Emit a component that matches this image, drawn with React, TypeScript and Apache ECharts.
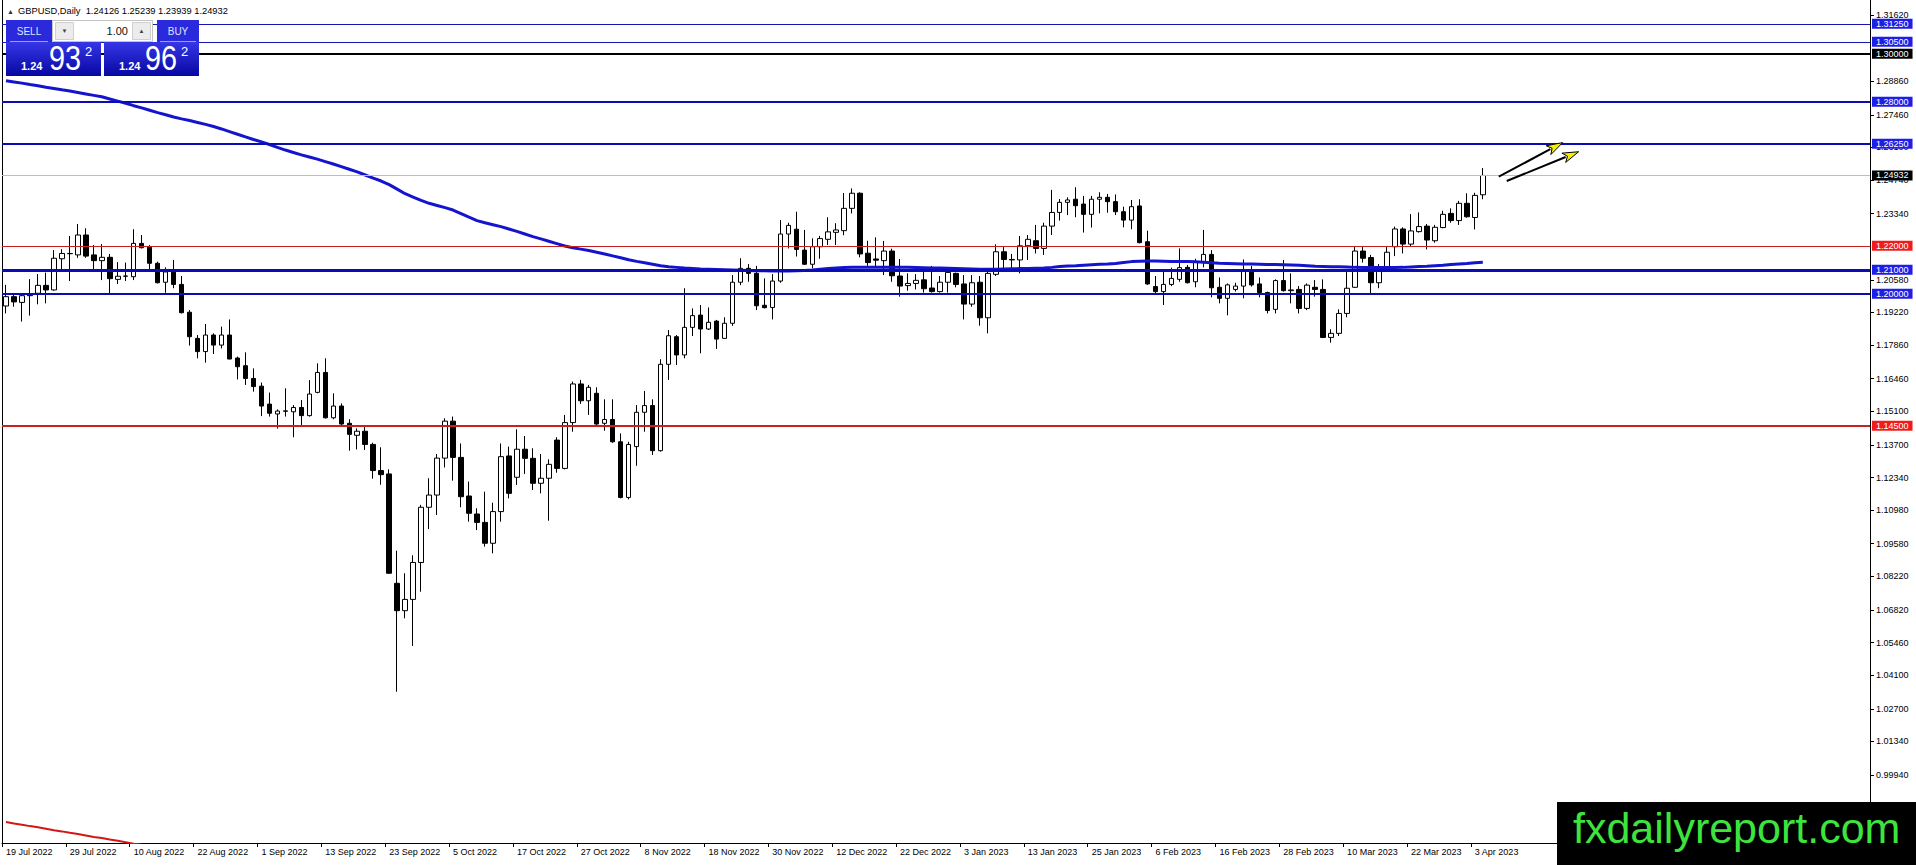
import React, { useEffect, useRef } from "react";
import * as echarts from "echarts";

const SYMBOL_TITLE = "GBPUSD,Daily";
const FIRST_DAY = "2022-07-19";
const FUTURE_SLOTS = 48;
const LABEL_EVERY = 8;

const OPEN = [
  1.1949, 1.1988, 1.1964, 1.1992, 1.2002, 1.2035, 1.2016, 1.2146, 1.2168, 1.2162,
  1.2245, 1.2162, 1.2138, 1.2152, 1.206, 1.2073, 1.2071, 1.221, 1.2196, 1.2127,
  1.2048, 1.2091, 1.2039, 1.1923, 1.1814, 1.1759, 1.1828, 1.1786, 1.1828, 1.1732,
  1.17, 1.1647, 1.1615, 1.154, 1.1499, 1.151, 1.1508, 1.1526, 1.1492, 1.1589,
  1.1672, 1.1483, 1.1532, 1.146, 1.141, 1.1427, 1.1372, 1.1263, 1.1249, 1.0793,
  1.0679, 1.0726, 1.088, 1.111, 1.1161, 1.1315, 1.1469, 1.1318, 1.1157, 1.1082,
  1.1047, 1.096, 1.1092, 1.1324, 1.1235, 1.1352, 1.1314, 1.121, 1.1231, 1.139,
  1.1272, 1.1463, 1.1624, 1.1554, 1.1585, 1.146, 1.1476, 1.1383, 1.1151, 1.1363,
  1.1506, 1.1534, 1.1346, 1.1706, 1.1821, 1.1745, 1.186, 1.1911, 1.1853, 1.1886,
  1.1814, 1.1877, 1.2048, 1.2106, 1.2085, 1.1952, 1.1943, 1.2053, 1.2249, 1.2269,
  1.2182, 1.2123, 1.2196, 1.2227, 1.2256, 1.2263, 1.2356, 1.2419, 1.2169, 1.2145,
  1.2138, 1.2178, 1.2074, 1.2034, 1.2043, 1.2058, 1.2024, 1.2009, 1.2048, 1.2085,
  1.2041, 1.1957, 1.2048, 1.19, 1.2081, 1.2175, 1.2143, 1.2141, 1.22, 1.2221,
  1.2189, 1.2282, 1.2339, 1.2381, 1.2394, 1.2374, 1.2331, 1.2394, 1.2402, 1.2384,
  1.2342, 1.2307, 1.2366, 1.2217, 1.203, 1.2009, 1.2039, 1.206, 1.211, 1.205,
  1.2131, 1.2164, 1.2027, 1.1981, 1.2018, 1.2032, 1.2096, 1.2041, 1.2005, 1.1935,
  1.2055, 1.2013, 1.2018, 1.1939, 1.2027, 1.2018, 1.1818, 1.1835, 1.1918, 1.2027,
  1.2178, 1.2151, 1.2046, 1.2099, 1.2196, 1.227, 1.2207, 1.2259, 1.2282, 1.2221,
  1.2276, 1.2335, 1.2305, 1.2377, 1.2318, 1.24126,
];

const HIGH = [
  1.2037, 1.1997, 1.1995, 1.2061, 1.2082, 1.2088, 1.2182, 1.2186, 1.2241, 1.2291,
  1.2273, 1.2203, 1.2207, 1.2166, 1.2132, 1.213, 1.2269, 1.2245, 1.2203, 1.2134,
  1.211, 1.2141, 1.2074, 1.1932, 1.1828, 1.1874, 1.1835, 1.1863, 1.1893, 1.1738,
  1.1756, 1.1689, 1.163, 1.1588, 1.1518, 1.1606, 1.1536, 1.1557, 1.164, 1.171,
  1.1731, 1.1585, 1.1543, 1.1477, 1.1439, 1.1453, 1.1379, 1.136, 1.1268, 1.0929,
  1.0835, 1.091, 1.112, 1.1231, 1.1332, 1.1481, 1.1488, 1.1376, 1.1217, 1.1106,
  1.1175, 1.1129, 1.1376, 1.1363, 1.1435, 1.1407, 1.1356, 1.1332, 1.131, 1.1402,
  1.1495, 1.1634, 1.1641, 1.162, 1.161, 1.156, 1.156, 1.1418, 1.1383, 1.1536,
  1.1595, 1.156, 1.1727, 1.1849, 1.1828, 1.2023, 1.1939, 1.1953, 1.1943, 1.1891,
  1.1902, 1.2078, 1.2148, 1.2124, 1.2116, 1.2064, 1.2082, 1.2307, 1.2296, 1.2342,
  1.2266, 1.2231, 1.2241, 1.2319, 1.2294, 1.242, 1.2439, 1.2423, 1.2221, 1.2235,
  1.222, 1.2188, 1.2145, 1.2085, 1.2082, 1.2096, 1.2116, 1.2074, 1.2095, 1.2088,
  1.2078, 1.2078, 1.2074, 1.2092, 1.2206, 1.2196, 1.2166, 1.2241, 1.2245, 1.2287,
  1.2296, 1.2433, 1.2395, 1.2402, 1.2444, 1.2408, 1.2408, 1.2423, 1.2416, 1.2414,
  1.2363, 1.2391, 1.2394, 1.2263, 1.2074, 1.2092, 1.2109, 1.2189, 1.212, 1.2146,
  1.2266, 1.2182, 1.2068, 1.2043, 1.2046, 1.2143, 1.2116, 1.2068, 1.2009, 1.206,
  1.2141, 1.2085, 1.2032, 1.2043, 1.2057, 1.206, 1.1852, 1.1935, 1.2102, 1.2196,
  1.2196, 1.2162, 1.2124, 1.2199, 1.228, 1.2277, 1.2332, 1.2339, 1.2291, 1.2287,
  1.2346, 1.2356, 1.2387, 1.2419, 1.2421, 1.25239,
];

const LOW = [
  1.1918, 1.1946, 1.1884, 1.1909, 1.1956, 1.196, 1.2013, 1.2102, 1.2053, 1.215,
  1.215, 1.2092, 1.2057, 1.2002, 1.2041, 1.2053, 1.2057, 1.2189, 1.2092, 1.2043,
  1.2004, 1.2023, 1.1918, 1.1784, 1.1731, 1.1713, 1.1749, 1.1772, 1.1727, 1.1643,
  1.162, 1.1592, 1.149, 1.1488, 1.1438, 1.1488, 1.1402, 1.1449, 1.1488, 1.1585,
  1.148, 1.1477, 1.1453, 1.1346, 1.1351, 1.1349, 1.1229, 1.1204, 1.0832, 1.0341,
  1.0647, 1.0532, 1.0758, 1.1019, 1.1078, 1.1276, 1.1221, 1.111, 1.105, 1.1015,
  1.0946, 1.0918, 1.105, 1.1147, 1.1203, 1.1249, 1.1182, 1.1168, 1.1054, 1.1254,
  1.1268, 1.1425, 1.1541, 1.1495, 1.1453, 1.1429, 1.1379, 1.1147, 1.1143, 1.1283,
  1.1425, 1.1328, 1.1342, 1.1641, 1.1703, 1.1731, 1.1824, 1.1752, 1.1849, 1.177,
  1.1812, 1.1866, 1.2036, 1.205, 1.1932, 1.1939, 1.1893, 1.2046, 1.2189, 1.2155,
  1.212, 1.2106, 1.2146, 1.2203, 1.2203, 1.2244, 1.2335, 1.2152, 1.2116, 1.2113,
  1.2078, 1.205, 1.1988, 1.2013, 1.2018, 1.2005, 1.2005, 1.2005, 1.2005, 1.2027,
  1.1893, 1.1946, 1.1867, 1.1835, 1.2074, 1.2106, 1.2092, 1.2085, 1.2141, 1.2168,
  1.2162, 1.2245, 1.2305, 1.2328, 1.2319, 1.2255, 1.2276, 1.2335, 1.2338, 1.2328,
  1.2277, 1.2269, 1.221, 1.2037, 1.2002, 1.1953, 1.2032, 1.205, 1.2043, 1.2027,
  1.211, 1.1985, 1.196, 1.191, 1.2009, 1.1981, 1.203, 1.1985, 1.1918, 1.1918,
  1.2009, 1.196, 1.1918, 1.1932, 1.1988, 1.1815, 1.1796, 1.1824, 1.1902, 1.2024,
  1.213, 1.2002, 1.2023, 1.2096, 1.2157, 1.2168, 1.2199, 1.2255, 1.2185, 1.2213,
  1.2273, 1.2296, 1.2287, 1.2317, 1.2268, 1.23939,
];

const CLOSE = [
  1.1988, 1.1966, 1.1992, 1.1995, 1.2035, 1.2016, 1.2148, 1.2168, 1.2167, 1.2245,
  1.2157, 1.2138, 1.2152, 1.2063, 1.2073, 1.2074, 1.221, 1.2192, 1.2127, 1.2046,
  1.2091, 1.2039, 1.1921, 1.1821, 1.1759, 1.1828, 1.1786, 1.1828, 1.1728, 1.1696,
  1.1647, 1.1613, 1.1532, 1.1502, 1.1511, 1.1512, 1.1526, 1.1492, 1.1582, 1.1672,
  1.1483, 1.1532, 1.1457, 1.1414, 1.1427, 1.1372, 1.1263, 1.1246, 1.0835, 1.0679,
  1.0726, 1.088, 1.111, 1.1161, 1.1315, 1.1469, 1.1318, 1.1154, 1.1085, 1.1047,
  1.096, 1.1092, 1.1321, 1.1168, 1.1352, 1.1314, 1.121, 1.1231, 1.1289, 1.1272,
  1.1463, 1.1624, 1.1554, 1.161, 1.1457, 1.1476, 1.1383, 1.1151, 1.1372, 1.1506,
  1.1534, 1.1346, 1.1706, 1.1825, 1.1745, 1.186, 1.1909, 1.1853, 1.1881, 1.1811,
  1.1877, 1.2048, 1.2106, 1.2085, 1.195, 1.1942, 1.2053, 1.2249, 1.2285, 1.2185,
  1.2123, 1.2196, 1.223, 1.2258, 1.2266, 1.2356, 1.2419, 1.2166, 1.213, 1.214,
  1.2178, 1.2075, 1.2032, 1.2043, 1.2056, 1.2021, 1.2009, 1.2048, 1.2089, 1.2039,
  1.1957, 1.2046, 1.19, 1.2085, 1.2175, 1.2143, 1.2141, 1.22, 1.2227, 1.2189,
  1.2282, 1.2339, 1.2381, 1.2391, 1.2367, 1.2331, 1.2394, 1.2402, 1.2384, 1.2342,
  1.2307, 1.2363, 1.2213, 1.2041, 1.2009, 1.2039, 1.2064, 1.2109, 1.2046, 1.2131,
  1.2164, 1.2025, 1.1981, 1.2037, 1.2032, 1.2099, 1.2037, 1.2005, 1.193, 1.2055,
  1.2013, 1.2016, 1.1939, 1.2036, 1.2018, 1.1818, 1.1835, 1.1918, 1.2023, 1.2178,
  1.2148, 1.2046, 1.2099, 1.2173, 1.227, 1.2207, 1.2262, 1.228, 1.2224, 1.2277,
  1.2331, 1.2305, 1.2377, 1.2321, 1.241, 1.24932,
];

// 200-day moving average (blue), one value per bar
const MA_BLUE = [
  1.2888, 1.2883, 1.2878, 1.2872, 1.2867, 1.2861, 1.2856, 1.285, 1.2845, 1.2839,
  1.2833, 1.2827, 1.2821, 1.2812, 1.2803, 1.2794, 1.2784, 1.2775, 1.2765, 1.2755,
  1.2746, 1.2737, 1.2729, 1.2722, 1.2714, 1.2706, 1.2697, 1.2687, 1.2676, 1.2665,
  1.2654, 1.2643, 1.2633, 1.2622, 1.261, 1.2599, 1.2589, 1.2579, 1.257, 1.2561,
  1.2551, 1.2541, 1.253, 1.2519, 1.2508, 1.2495, 1.2482, 1.247, 1.2455, 1.2436,
  1.2417, 1.2403, 1.2389, 1.2377, 1.2368, 1.2359, 1.2349, 1.2334, 1.2319, 1.2305,
  1.2296, 1.2288, 1.228, 1.227, 1.226, 1.2249, 1.2238, 1.2229, 1.2219, 1.2209,
  1.2199, 1.2192, 1.2186, 1.218, 1.2173, 1.2166, 1.2158, 1.215, 1.2142, 1.2135,
  1.2129, 1.2123, 1.2117, 1.2113, 1.211, 1.2107, 1.2105, 1.2103, 1.2102, 1.2101,
  1.21, 1.2099, 1.2098, 1.2097, 1.2096, 1.2096, 1.2095, 1.2095, 1.2095, 1.2096,
  1.2097, 1.2099, 1.2102, 1.2105, 1.2107, 1.2109, 1.211, 1.211, 1.2111, 1.2111,
  1.2111, 1.211, 1.211, 1.211, 1.2109, 1.2108, 1.2107, 1.2107, 1.2106, 1.2105,
  1.2104, 1.2103, 1.2102, 1.2102, 1.2102, 1.2103, 1.2104, 1.2105, 1.2105, 1.2106,
  1.2107, 1.211, 1.2114, 1.2116, 1.2117, 1.2119, 1.2121, 1.2123, 1.2124, 1.2126,
  1.213, 1.2134, 1.2136, 1.2137, 1.2137, 1.2136, 1.2135, 1.2134, 1.2134, 1.2133,
  1.2131, 1.2129, 1.2127, 1.2126, 1.2125, 1.2124, 1.2124, 1.2123, 1.2122, 1.2122,
  1.2121, 1.212, 1.2119, 1.2117, 1.2115, 1.2114, 1.2113, 1.2113, 1.2112, 1.211,
  1.2109, 1.2109, 1.2109, 1.2109, 1.2109, 1.211, 1.2112, 1.2114, 1.2115, 1.2117,
  1.2119, 1.2122, 1.2124, 1.2126, 1.2129, 1.2131,
];

// red line at the lower left, leaving the chart through its bottom
const MA_RED = [
  0.9798, 0.9792, 0.9787, 0.9781, 0.9776, 0.977, 0.9764, 0.9759, 0.9753, 0.9748,
  0.9742, 0.9736, 0.9731, 0.9725, 0.972, 0.9714, 0.9708, 0.9703, 0.9697,
];

const PRICE_TICKS = [
  1.3162, 1.2886, 1.2746, 1.261, 1.2474, 1.2334, 1.2058, 1.1922, 1.1786, 1.1646,
  1.151, 1.137, 1.1234, 1.1098, 1.0958, 1.0822, 1.0682, 1.0546, 1.041, 1.027,
  1.0134, 0.9994,
];
const Y_MIN = 0.97106;
const Y_MAX = 1.32245;

const LEVEL_VALUES = [1.3125, 1.305, 1.3, 1.28, 1.2625, 1.22, 1.21, 1.2, 1.145];
const LEVEL_KINDS = ["blueThin", "blueThin", "black", "blue", "blue", "redThin", "blueThick", "blue", "red"];

// two drawn arrows, in data coordinates [bar position, price]
const ARROW_TAILS = [
  [186.77, 1.2488],
  [187.52, 1.247],
];
const ARROW_TIPS = [
  [194.66, 1.263],
  [196.54, 1.2592],
];

const WATERMARK = "fxdailyreport.com";

const FONT = '"Liberation Sans", Arial, "DejaVu Sans", sans-serif';

const KIND_STYLE: any = {
  blueThin: { line: "#1616b0", width: 1, tag: "#1e1ee6" },
  blue: { line: "#0c0cb4", width: 2, tag: "#1e1ee6" },
  blueThick: { line: "#0c0cb4", width: 3, tag: "#1e1ee6" },
  black: { line: "#000000", width: 2, tag: "#000000" },
  redThin: { line: "#c82020", width: 1, tag: "#f01c1c" },
  red: { line: "#c82020", width: 2, tag: "#f01c1c" },
  last: { line: "#bdbdbd", width: 1, tag: "#000000" },
};

const MONTHS = ["Jan", "Feb", "Mar", "Apr", "May", "Jun", "Jul", "Aug", "Sep", "Oct", "Nov", "Dec"];

function tradingDays(start: string, n: number): string[] {
  const out: string[] = [];
  const d = new Date(start + "T00:00:00Z");
  while (out.length < n) {
    const wd = d.getUTCDay();
    if (wd !== 0 && wd !== 6) {
      out.push(`${d.getUTCDate()} ${MONTHS[d.getUTCMonth()]} ${d.getUTCFullYear()}`);
    }
    d.setUTCDate(d.getUTCDate() + 1);
  }
  return out;
}

function buildPanel(): any[] {
  const grad = () =>
    new echarts.graphic.LinearGradient(0, 0, 0, 1, [
      { offset: 0, color: "#3636e6" },
      { offset: 1, color: "#0707a2" },
    ]);
  const t = (text: string, x: number, y: number, extra: any = {}, el: any = {}) => ({
    type: "text",
    x,
    y,
    z: 102,
    ...el,
    style: { text, x: 0, y: 0, fill: "#ffffff", fontFamily: FONT, verticalAlign: "middle", ...extra },
  });
  const last = CLOSE.length - 1;
  const title = `${SYMBOL_TITLE}\u00a0 ${OPEN[last].toFixed(5)} ${HIGH[last].toFixed(5)} ${LOW[last].toFixed(5)} ${CLOSE[last].toFixed(5)}`;
  return [
    t("\u25B2", 7, 11, { fill: "#333333", fontSize: 7 }),
    t(title, 18, 11, { fill: "#000000", fontSize: 9.3 }),
    { type: "rect", z: 100, shape: { x: 6, y: 20, width: 46, height: 22 }, style: { fill: "#2a2adc" } },
    { type: "rect", z: 100, shape: { x: 157, y: 20, width: 42, height: 22 }, style: { fill: "#2a2adc" } },
    { type: "rect", z: 100, shape: { x: 6, y: 42, width: 95, height: 34 }, style: { fill: grad() } },
    { type: "rect", z: 100, shape: { x: 104, y: 42, width: 95, height: 34 }, style: { fill: grad() } },
    { type: "line", z: 101, shape: { x1: 10, y1: 41.5, x2: 48, y2: 41.5 }, style: { stroke: "#9c9cf4", lineWidth: 1 } },
    { type: "line", z: 101, shape: { x1: 160, y1: 41.5, x2: 196, y2: 41.5 }, style: { stroke: "#9c9cf4", lineWidth: 1 } },
    t("SELL", 29, 31, { fill: "#dfe3ff", fontSize: 10, align: "center" }),
    t("BUY", 178, 31, { fill: "#dfe3ff", fontSize: 10, align: "center" }),
    { type: "rect", z: 100, shape: { x: 52.5, y: 20.5, width: 100, height: 21 }, style: { fill: "#ffffff", stroke: "#c4c4c4", lineWidth: 1 } },
    { type: "rect", z: 101, shape: { x: 55.5, y: 22.5, width: 18, height: 17 }, style: { fill: "#ececec", stroke: "#d0d0d0", lineWidth: 1 } },
    { type: "rect", z: 101, shape: { x: 132.5, y: 22.5, width: 18, height: 17 }, style: { fill: "#ececec", stroke: "#d0d0d0", lineWidth: 1 } },
    t("\u25BC", 64.5, 31, { fill: "#404040", fontSize: 6, align: "center" }),
    t("\u25B2", 141.5, 31, { fill: "#404040", fontSize: 6, align: "center" }),
    t("1.00", 128, 31, { fill: "#111111", fontSize: 11, align: "right" }),
    t("1.24", 21, 66, { fontSize: 11, fontWeight: "bold" }),
    t("93", 49, 57.5, { fontSize: 36 }, { scaleX: 0.8 }),
    t("2", 85, 51.5, { fontSize: 13 }),
    t("1.24", 119, 66, { fontSize: 11, fontWeight: "bold" }),
    t("96", 145, 57.5, { fontSize: 36 }, { scaleX: 0.8 }),
    t("2", 181, 51.5, { fontSize: 13 }),
    { type: "rect", z: 100, shape: { x: 1557, y: 802, width: 359, height: 63 }, style: { fill: "#000000" } },
    t(WATERMARK, 1573, 828, { fill: "#3ee43e", fontSize: 43 }),
  ];
}

export default function App() {
  const ref = useRef<HTMLDivElement>(null);

  useEffect(() => {
    document.body.style.margin = "0";
    const el = ref.current;
    if (!el) return;
    const chart = echarts.init(el, null, { renderer: "svg" });

    const days = tradingDays(FIRST_DAY, CLOSE.length);
    const categories = days.concat(Array.from({ length: FUTURE_SLOTS }, (_, k) => `f${k}`));
    const showAt = (i: number) => i < CLOSE.length && i % LABEL_EVERY === 0;
    const candles = CLOSE.map((c, i) => [OPEN[i], c, LOW[i], HIGH[i]]);
    const lastPrice = CLOSE[CLOSE.length - 1];

    const levelItems = LEVEL_VALUES.map((v, k) => {
      const s = KIND_STYLE[LEVEL_KINDS[k]];
      return {
        yAxis: v,
        name: v.toFixed(5),
        lineStyle: { color: s.line, width: s.width, type: "solid" },
        label: { backgroundColor: s.tag },
      };
    });
    const ls = KIND_STYLE.last;
    levelItems.push({
      yAxis: lastPrice,
      name: lastPrice.toFixed(5),
      lineStyle: { color: ls.line, width: ls.width, type: "solid" },
      label: { backgroundColor: ls.tag },
    });

    const option: any = {
      animation: false,
      backgroundColor: "#ffffff",
      grid: { left: 2, right: 46, top: 0, bottom: 22, containLabel: false, outerBoundsMode: "none" },
      xAxis: [
        {
          type: "category",
          data: categories,
          boundaryGap: true,
          axisLine: { show: true, lineStyle: { color: "#000000", width: 1 } },
          axisTick: { show: true, interval: (i: number) => showAt(i), length: 4, lineStyle: { color: "#000000" } },
          axisLabel: {
            interval: (i: number) => showAt(i),
            formatter: (v: string) => (v.startsWith("f") ? "" : v),
            align: "left",
            fontSize: 9,
            fontFamily: FONT,
            color: "#000000",
            margin: 4,
            hideOverlap: false,
          },
          splitLine: { show: false },
        },
      ],
      yAxis: [
        {
          type: "value",
          position: "right",
          min: Y_MIN,
          max: Y_MAX,
          axisLine: { show: true, lineStyle: { color: "#000000", width: 1 } },
          axisTick: { show: true, inside: false, length: 4, customValues: PRICE_TICKS, lineStyle: { color: "#000000" } },
          axisLabel: {
            customValues: PRICE_TICKS,
            formatter: (v: number) => v.toFixed(5),
            fontSize: 9,
            fontFamily: FONT,
            color: "#000000",
            margin: 6,
            hideOverlap: false,
          },
          splitLine: { show: false },
        },
        {
          type: "value",
          position: "left",
          min: Y_MIN,
          max: Y_MAX,
          axisLine: { show: true, lineStyle: { color: "#000000", width: 1 } },
          axisTick: { show: false },
          axisLabel: { show: false },
          splitLine: { show: false },
        },
      ],
      series: [
        {
          type: "candlestick",
          name: "GBPUSD",
          data: candles,
          barWidth: 5,
          z: 2,
          itemStyle: {
            color: "#ffffff",
            color0: "#000000",
            borderColor: "#000000",
            borderColor0: "#000000",
            borderColorDoji: "#000000",
            borderWidth: 1,
          },
          markLine: {
            silent: true,
            symbol: ["none", "none"],
            precision: 5,
            animation: false,
            label: {
              show: true,
              position: "end",
              formatter: "{b}",
              distance: 2,
              color: "#ffffff",
              fontSize: 9,
              fontFamily: FONT,
              lineHeight: 10,
              padding: [0, 4, 0, 4],
            },
            emphasis: { disabled: true },
            data: levelItems,
          },
        },
        {
          type: "line",
          name: "MA200",
          data: MA_BLUE,
          symbol: "none",
          z: 4,
          lineStyle: { color: "#1414cf", width: 3 },
          silent: true,
        },
        {
          type: "line",
          name: "MA red",
          data: MA_RED,
          symbol: "none",
          z: 4,
          clip: true,
          lineStyle: { color: "#d41616", width: 2 },
          silent: true,
        },
      ],
      graphic: { elements: buildPanel() },
    };

    chart.setOption(option);

    // arrows drawn from data coordinates
    const arrows: any[] = [];
    ARROW_TAILS.forEach((tail, k) => {
      const a = chart.convertToPixel({ gridIndex: 0 }, tail as any) as any;
      const b = chart.convertToPixel({ gridIndex: 0 }, ARROW_TIPS[k] as any) as any;
      if (!a || !b || isNaN(a[0]) || isNaN(b[0])) return;
      const dx = b[0] - a[0];
      const dy = b[1] - a[1];
      const len = Math.sqrt(dx * dx + dy * dy) || 1;
      const ux = dx / len;
      const uy = dy / len;
      const head = 16;
      const half = 5;
      const bx = b[0] - ux * head;
      const by = b[1] - uy * head;
      arrows.push({
        type: "line",
        z: 103,
        shape: { x1: a[0], y1: a[1], x2: bx + ux * 2, y2: by + uy * 2 },
        style: { stroke: "#000000", lineWidth: 2 },
      });
      arrows.push({
        type: "polygon",
        z: 104,
        shape: {
          points: [
            [b[0], b[1]],
            [bx - uy * half, by + ux * half],
            [bx + ux * 4, by + uy * 4],
            [bx + uy * half, by - ux * half],
          ],
        },
        style: { fill: "#f4f000", stroke: "#000000", lineWidth: 1 },
      });
    });
    chart.setOption({ graphic: { elements: buildPanel().concat(arrows) } }, { replaceMerge: ["graphic"] });

    return () => {
      chart.dispose();
    };
  }, []);

  return (
    <div
      ref={ref}
      style={{ position: "fixed", left: 0, top: 0, width: 1916, height: 865, background: "#ffffff" }}
    />
  );
}
